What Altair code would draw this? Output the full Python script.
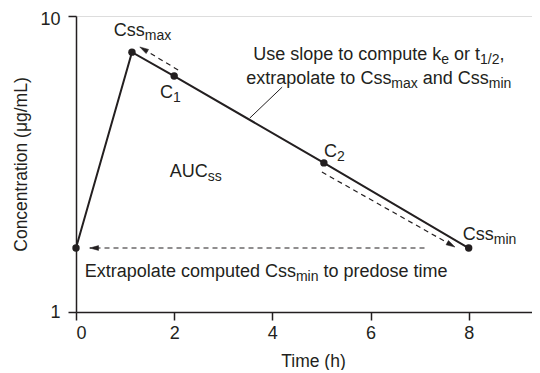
import math
import altair as alt
import pandas as pd

# ---------------- data ----------------
time_h = [0, 1.14, 2, 5.05, 8]
conc = [1.645, 7.55, 6.27, 3.19, 1.645]

x_ticks = [0, 2, 4, 6, 8]
y_ticks = [1, 10]
x_domain = [0, 9.29]
y_domain = [1, 10]

# dashed arrows (start -> tip), data units
arrow_x0 = [2.08, 5.01, 7.10]
arrow_y0 = [6.57, 2.97, 1.645]
arrow_x1 = [1.30, 7.72, 0.28]
arrow_y1 = [7.86, 1.658, 1.645]

# leader line from annotation to curve
leader_x = [4.20, 3.54]
leader_y = [5.75, 4.52]

# labels: anchor (data units), alignment, segments (text, is_subscript)
label_x = [0.77, 1.71, 1.91, 5.05, 7.88, 6.17, 6.17, 0.18]
label_y = [8.56, 5.28, 2.86, 3.34, 1.75, 7.10, 5.89, 1.313]
label_align = ["left", "left", "left", "left", "left", "center", "center", "left"]
label_segments = [
    [("Css", 0), ("max", 1)],
    [("C", 0), ("1", 1)],
    [("AUC", 0), ("ss", 1)],
    [("C", 0), ("2", 1)],
    [("Css", 0), ("min", 1)],
    [("Use slope to compute k", 0), ("e", 1), (" or t", 0), ("1/2", 1), (",", 0)],
    [("extrapolate to Css", 0), ("max", 1), (" and Css", 0), ("min", 1)],
    [("Extrapolate computed Css", 0), ("min", 1), (" to predose time", 0)],
]

# ---------------- style ----------------
W, H = 456, 296
FONT = "Liberation Sans"
INK = "#231f20"
MAIN_SIZE = 18
SUB_SIZE = 14
SUB_SHIFT = 4
AX_LABEL = 18
AX_TITLE = 17.5

ARIAL = {
    " ": 278, ",": 278, "/": 278, "(": 333, ")": 333,
    "A": 667, "C": 722, "E": 667, "U": 722, "T": 611, "L": 556,
    "a": 556, "c": 500, "d": 556, "e": 556, "i": 222, "k": 500, "l": 222,
    "m": 833, "n": 556, "o": 556, "p": 556, "r": 333, "s": 500, "t": 278,
    "u": 556, "x": 500, "g": 556, "h": 556,
}


def text_width(s, size):
    return sum(ARIAL.get(ch, 556) for ch in s) * size / 1000.0


x_scale = alt.Scale(domain=x_domain, nice=False, zero=False)
y_scale = alt.Scale(type="log", domain=y_domain, nice=False)

curve_df = pd.DataFrame({"t": time_h, "c": conc})

x_axis = alt.Axis(
    values=x_ticks, title="Time (h)", grid=False, tickSize=8, labelPadding=4,
    titlePadding=10, titleX=237, labelFontSize=AX_LABEL, titleFontSize=AX_TITLE,
    titleFontWeight="normal", labelFont=FONT, titleFont=FONT,
    labelColor=INK, titleColor=INK, domainColor=INK, tickColor=INK,
    domainWidth=1.5, tickWidth=1.5,
)
y_axis = alt.Axis(
    values=y_ticks, format="d", title="Concentration (μg/mL)", grid=False,
    tickSize=8, labelPadding=8, titlePadding=9, labelFontSize=AX_LABEL,
    labelOffset={"condition": {"test": "datum.value == 10", "value": 3}, "value": 0},
    titleFontSize=AX_TITLE, titleFontWeight="normal", labelFont=FONT,
    titleFont=FONT, labelColor=INK, titleColor=INK, domainColor=INK,
    tickColor=INK, domainWidth=1.5, tickWidth=1.5,
)

line = alt.Chart(curve_df).mark_line(color=INK, strokeWidth=2).encode(
    x=alt.X("t:Q", scale=x_scale, axis=x_axis),
    y=alt.Y("c:Q", scale=y_scale, axis=y_axis),
)
points = alt.Chart(curve_df).mark_point(
    filled=True, color=INK, size=55, opacity=1, shape="circle"
).encode(x=alt.X("t:Q", scale=x_scale), y=alt.Y("c:Q", scale=y_scale))

arrow_df = pd.DataFrame({"x0": arrow_x0, "y0": arrow_y0, "x1": arrow_x1, "y1": arrow_y1})
px_per_x = W / (x_domain[1] - x_domain[0])
px_per_dec = H / (math.log10(y_domain[1]) - math.log10(y_domain[0]))
angles = []
for a, b, c, d in zip(arrow_x0, arrow_y0, arrow_x1, arrow_y1):
    dxp = (c - a) * px_per_x
    dyp = -(math.log10(d) - math.log10(b)) * px_per_dec
    angles.append(round(math.degrees(math.atan2(dxp, -dyp)) % 360, 2))
arrow_df["angle"] = angles

dashes = alt.Chart(arrow_df).mark_rule(
    color=INK, strokeWidth=1.2, strokeDash=[5, 4]
).encode(
    x=alt.X("x0:Q", scale=x_scale), y=alt.Y("y0:Q", scale=y_scale),
    x2="x1:Q", y2="y1:Q",
)
heads = alt.Chart(arrow_df).mark_point(
    filled=True, fill=INK, stroke=INK, strokeWidth=0.5, opacity=1, size=64,
    shape="M0,0L0.6,2.2L-0.6,2.2Z",
).encode(
    x=alt.X("x1:Q", scale=x_scale), y=alt.Y("y1:Q", scale=y_scale),
    angle=alt.Angle("angle:Q", scale=None),
)

leader_df = pd.DataFrame({"x0": [leader_x[0]], "y0": [leader_y[0]],
                          "x1": [leader_x[1]], "y1": [leader_y[1]]})
leader = alt.Chart(leader_df).mark_rule(color=INK, strokeWidth=1).encode(
    x=alt.X("x0:Q", scale=x_scale), y=alt.Y("y0:Q", scale=y_scale),
    x2="x1:Q", y2="y1:Q",
)

layers = [line, dashes, heads, leader, points]

for lx, ly, al, segs in zip(label_x, label_y, label_align, label_segments):
    widths = [text_width(s, SUB_SIZE if sub else MAIN_SIZE) for s, sub in segs]
    total = sum(widths)
    off = -total / 2 if al == "center" else 0.0
    for (s, sub), w in zip(segs, widths):
        size = SUB_SIZE if sub else MAIN_SIZE
        shown = s.lstrip(" ")
        lead = text_width(s[: len(s) - len(shown)], size)
        df = pd.DataFrame({"x": [lx], "y": [ly], "label": [shown]})
        layers.append(
            alt.Chart(df).mark_text(
                align="left", baseline="alphabetic", font=FONT, color=INK,
                fontSize=size, dx=round(off + lead, 2),
                dy=SUB_SHIFT if sub else 0,
            ).encode(
                x=alt.X("x:Q", scale=x_scale), y=alt.Y("y:Q", scale=y_scale),
                text="label:N",
            )
        )
        off += w

chart = alt.layer(*layers).properties(
    width=W, height=H,
    autosize=alt.AutoSizeParams(type="none"),
    padding={"left": 68, "top": 8, "right": 0, "bottom": 58},
).configure_view(stroke=None).configure(background="white")

chart.save("out.html", embed_options={"renderer": "svg", "actions": False})
